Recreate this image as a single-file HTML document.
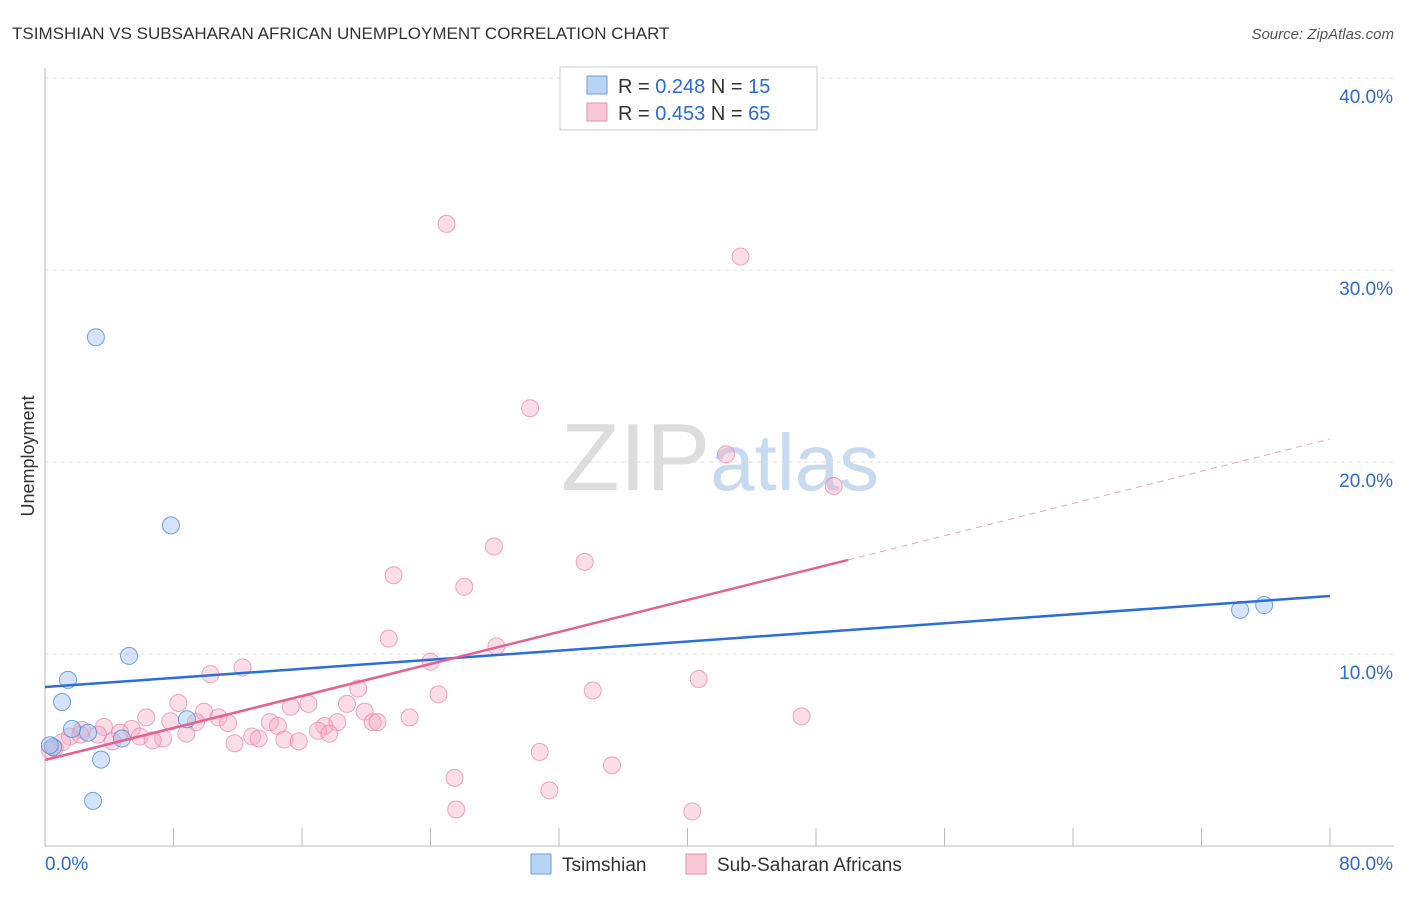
<!DOCTYPE html>
<html><head><meta charset="utf-8">
<style>
body{margin:0;background:#fff;font-family:"Liberation Sans",sans-serif;}
svg text{font-family:"Liberation Sans",sans-serif;}
</style></head>
<body>
<svg id="chart" width="1406" height="892" viewBox="0 0 1406 892">
<text x="12" y="39" font-size="17" fill="#333">TSIMSHIAN VS SUBSAHARAN AFRICAN UNEMPLOYMENT CORRELATION CHART</text>
<text x="1394" y="39" font-size="15" fill="#555" text-anchor="end" font-style="italic">Source: ZipAtlas.com</text>
<text x="720" y="490" font-size="96" fill="#ddd" text-anchor="middle" font-family="Liberation Serif">ZIP<tspan fill="#c8daf0" font-family="Liberation Sans" font-size="80">atlas</tspan></text>
<text transform="translate(34,456) rotate(-90)" font-size="18" fill="#333" text-anchor="middle">Unemployment</text>
<g id="grid"></g><g id="axes"></g><g id="marks"></g>
<g>
<rect x="560" y="67" width="257" height="63" fill="#fff" stroke="#ccc"/>
<rect x="587" y="76" width="20" height="18" fill="#b8d4f4" stroke="#6a9ed8"/>
<rect x="587" y="103" width="20" height="18" fill="#f8c8d6" stroke="#e890ab"/>
<text x="618" y="93" font-size="20" fill="#333">R = <tspan fill="#2c6ad6">0.248</tspan>   N = <tspan fill="#2c6ad6">15</tspan></text>
<text x="618" y="120" font-size="20" fill="#333">R = <tspan fill="#2c6ad6">0.453</tspan>   N = <tspan fill="#2c6ad6">65</tspan></text>
</g>
<g>
<rect x="531" y="854" width="20" height="20" fill="#b8d4f4" stroke="#6a9ed8"/>
<text x="562" y="871" font-size="19" fill="#333">Tsimshian</text>
<rect x="686" y="854" width="20" height="20" fill="#f8c8d6" stroke="#e890ab"/>
<text x="717" y="871" font-size="19" fill="#333">Sub-Saharan Africans</text>
</g>
</svg>
<script>
const yTicks=[10,20,30,40];
const yTickLabels=["10.0%","20.0%","30.0%","40.0%"];
const xEndLabels=["0.0%","80.0%"];
const blueX=[3.17,7.84,5.23,1.43,1.06,1.68,2.68,4.79,3.49,2.99,8.84,0.5,74.4,75.9,0.3];
const blueY=[26.5,16.7,9.9,8.65,7.5,6.1,5.9,5.6,4.5,2.35,6.6,5.15,12.3,12.55,5.25];
const pinkX=[25.0,43.3,30.2,42.4,49.1,27.95,33.6,21.7,26.1,21.4,28.1,24.0,12.3,10.3,40.7,34.1,24.5,19.5,8.3,16.4,15.3,18.8,19.9,9.9,10.8,6.3,22.7,47.1,7.8,9.4,11.4,14.0,14.5,17.4,18.2,20.4,20.7,17.0,17.7,3.67,5.4,4.67,2.3,3.3,8.8,5.9,7.35,6.7,12.9,13.3,14.9,15.8,11.8,4.2,1.55,1.06,0.6,0.3,30.8,35.3,25.5,31.4,25.6,40.3,2.2];
const pinkY=[32.4,30.7,22.8,20.4,18.75,15.6,14.8,14.1,13.5,10.8,10.4,9.6,9.3,8.95,8.7,8.1,7.9,8.2,7.45,7.4,7.25,7.4,7.0,7.0,6.7,6.7,6.7,6.75,6.5,6.45,6.4,6.45,6.25,6.25,6.45,6.45,6.45,6.0,5.85,6.2,6.1,5.9,6.05,5.8,5.85,5.7,5.6,5.5,5.7,5.6,5.55,5.45,5.35,5.45,5.7,5.4,5.1,5.0,4.9,4.2,3.55,2.9,1.9,1.8,5.8];
const blueTrendX=[0,80], blueTrendY=[8.28,13.02];
const pinkTrendX=[0,50,80], pinkTrendY=[4.48,14.9,21.2];
const NS="http://www.w3.org/2000/svg";
const sx=v=>45+v/80*1285, sy=v=>846-v*19.2;
function mk(t,a,p){const e=document.createElementNS(NS,t);for(const k in a)e.setAttribute(k,a[k]);document.getElementById(p).appendChild(e);return e;}
yTicks.forEach((t,i)=>{
 const g=mk('line',{x1:45,x2:1394,y1:sy(t),y2:sy(t),stroke:'#ddd','stroke-dasharray':'4,4'},'grid');
 
 
 const l=mk('text',{x:1393,y:sy(t)+25,'font-size':19,fill:'#2c6ad6','text-anchor':'end'},'axes');
 l.textContent=yTickLabels[i];
 
 
});
let a=mk('line',{x1:45,x2:45,y1:68,y2:846,stroke:'#bbb'},'axes');


a=mk('line',{x1:45,x2:1394,y1:846,y2:846,stroke:'#bbb'},'axes');


for(let i=0;i<=10;i++){const t=mk('line',{x1:sx(i*8),x2:sx(i*8),y1:828,y2:846,stroke:'#bbb'},'axes');
 
 }
let xl=mk('text',{x:45,y:870,'font-size':19,fill:'#2c6ad6'},'axes');xl.textContent=xEndLabels[0];


xl=mk('text',{x:1393,y:870,'font-size':19,fill:'#2c6ad6','text-anchor':'end'},'axes');xl.textContent=xEndLabels[1];


pinkX.forEach((x,i)=>{const c=mk('circle',{cx:sx(x),cy:sy(pinkY[i]),r:8.5,fill:'rgba(246,170,195,0.4)',stroke:'rgba(232,130,165,0.7)','stroke-width':1},'marks');
 
 });
blueX.forEach((x,i)=>{const c=mk('circle',{cx:sx(x),cy:sy(blueY[i]),r:8.5,fill:'rgba(160,196,240,0.45)',stroke:'rgba(80,140,215,0.8)','stroke-width':1},'marks');
 
 });
let ln=mk('line',{x1:sx(blueTrendX[0]),y1:sy(blueTrendY[0]),x2:sx(blueTrendX[1]),y2:sy(blueTrendY[1]),stroke:'#2a6fd6','stroke-width':2.5},'marks');


ln=mk('line',{x1:sx(pinkTrendX[0]),y1:sy(pinkTrendY[0]),x2:sx(pinkTrendX[1]),y2:sy(pinkTrendY[1]),stroke:'#e8608e','stroke-width':2.5},'marks');


ln=mk('line',{x1:sx(pinkTrendX[1]),y1:sy(pinkTrendY[1]),x2:sx(pinkTrendX[2]),y2:sy(pinkTrendY[2]),stroke:'#eba0b8','stroke-width':1,'stroke-dasharray':'6,5'},'marks');


</script>
</body></html>
